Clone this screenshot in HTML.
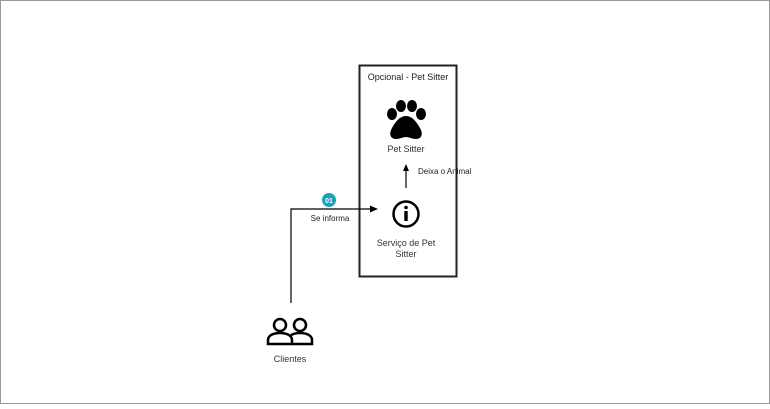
<!DOCTYPE html>
<html><head><style>
html,body{margin:0;padding:0;background:#fff;}
body{width:770px;height:404px;overflow:hidden;font-family:"Liberation Sans",sans-serif;}
</style></head><body>
<svg width="770" height="404" viewBox="0 0 770 404" xmlns="http://www.w3.org/2000/svg" font-family="Liberation Sans, sans-serif">
<rect x="0.5" y="0.5" width="769" height="403" fill="#fff" stroke="#999" stroke-width="1"/>
<rect x="359.5" y="65.5" width="97" height="211" fill="none" stroke="#222" stroke-width="2"/>
<text x="408" y="80" font-size="9" text-anchor="middle" fill="#222">Opcional - Pet Sitter</text>
<!-- paw -->
<g fill="#000">
<ellipse cx="392" cy="114" rx="5" ry="6"/>
<ellipse cx="401" cy="106" rx="5" ry="6"/>
<ellipse cx="412" cy="106" rx="5" ry="6"/>
<ellipse cx="421" cy="114" rx="5" ry="6"/>
<path d="M406 116 C399 116 394 124 391 130 C389 135 391 139 396 139 C400 139 403 137 406 137 C409 137 412 139 416 139 C421 139 423 135 421 130 C418 124 413 116 406 116 Z"/>
</g>
<text x="406" y="152" font-size="9" text-anchor="middle" fill="#333">Pet Sitter</text>
<line x1="406" y1="188" x2="406" y2="170" stroke="#000" stroke-width="1.2"/>
<polygon points="406,164 403,171 409,171" fill="#000"/>
<text x="418" y="174" font-size="8" fill="#222">Deixa o Animal</text>
<!-- info -->
<circle cx="406" cy="214" r="12.5" fill="none" stroke="#000" stroke-width="2.5"/>
<circle cx="406" cy="207.5" r="1.8" fill="#000"/>
<rect x="404.3" y="211" width="3.4" height="10" fill="#000"/>
<text x="406" y="246" font-size="9" text-anchor="middle" fill="#333">Serviço de Pet</text>
<text x="406" y="257" font-size="9" text-anchor="middle" fill="#333">Sitter</text>
<!-- connector -->
<polyline points="291,303 291,209 371,209" fill="none" stroke="#000" stroke-width="1.2"/>
<polygon points="378,209 370,205.5 370,212.5" fill="#000"/>
<circle cx="329" cy="200" r="7" fill="#1aa3b8"/>
<text x="329" y="203" font-size="7" font-weight="bold" text-anchor="middle" fill="#fff">01</text>
<text x="330" y="221" font-size="8" text-anchor="middle" fill="#222">Se informa</text>
<!-- clients -->
<g fill="none" stroke="#000" stroke-width="2.5">
<circle cx="280" cy="325" r="6"/>
<circle cx="300" cy="325" r="6"/>
<path d="M268 344 L268 340 C268 335 274 333 280 333 C286 333 292 335 292 340 L292 344 Z"/>
<path d="M292 344 L312 344 L312 340 C312 335 306 333 300 333 C296 333 292 334 290 336"/>
</g>
<text x="290" y="362" font-size="9" text-anchor="middle" fill="#333">Clientes</text>
</svg>
</body></html>
